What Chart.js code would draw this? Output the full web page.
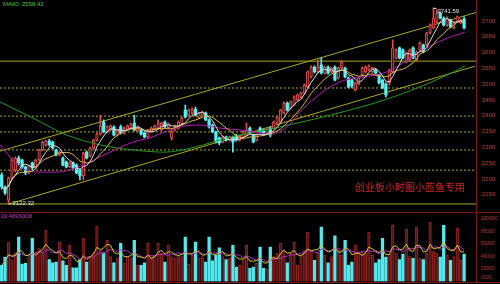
<!DOCTYPE html>
<html>
<head>
<meta charset="utf-8">
<script src="https://cdn.jsdelivr.net/npm/chart.js@4.4.1/dist/chart.umd.min.js"></script>
<style>
  html, body { margin:0; padding:0; background:#000; }
  #wrap { position:relative; width:500px; height:284px; overflow:hidden; background:#000; }
  #cPrice { position:absolute; left:0; top:0; }
  #cVol { position:absolute; left:0; top:212px; }
  .sep { position:absolute; left:0; width:500px; height:1px; background:#7a1818; }
  .txt { position:absolute; white-space:nowrap; font-family:'Liberation Sans', sans-serif; font-size:6px; line-height:7px; }
  #wm { position:absolute; left:355px; top:181px; white-space:nowrap; font-family:'Noto Sans CJK SC', sans-serif;
        font-size:10px; line-height:12px; color:#d02424; }
</style>
</head>
<body>
<div id="wrap">
  <canvas id="cPrice" width="500" height="213"></canvas>
  <canvas id="cVol" width="500" height="72"></canvas>
  <div class="sep" style="top:212px"></div>
  <div class="sep" style="top:282px"></div>
  <div class="txt" style="left:3px; top:1px; color:#2fd02f">MA60: 2558.42</div>
  <div class="txt" style="right:468px; top:213px; color:#d030d0">MAVOL10 4096008</div>
  <div id="wm">创业板小时图小蓝鱼专用</div>
</div>
<script>
/* ================= DATA ================= */

const priceTicks = [2150, 2200, 2250, 2300, 2350, 2400, 2450, 2500, 2550, 2600, 2650, 2700];
const volTickValues = [6000, 20000, 40000, 60000, 80000, 100000];
const volTickLabels = ["x100", "20000", "40000", "60000", "80000", "100000"];

const openP = [
  2213, 2175, 2133, 2203, 2228, 2266, 2260, 2238, 2222, 2251,
  2235, 2260, 2292, 2308, 2320, 2317, 2292, 2276, 2266, 2254,
  2238, 2251, 2244, 2228, 2210, 2285, 2273, 2298, 2323, 2342,
  2380, 2349, 2355, 2365, 2339, 2365, 2346, 2358, 2361, 2377,
  2352, 2355, 2346, 2333, 2349, 2358, 2361, 2355, 2380, 2361,
  2330, 2355, 2361, 2374, 2418, 2402, 2409, 2421, 2393, 2402,
  2409, 2387, 2371, 2349, 2330, 2317, 2333, 2323, 2333, 2339,
  2323, 2330, 2339, 2361, 2339, 2323, 2361, 2355, 2346, 2361,
  2361, 2377, 2380, 2409, 2440, 2425, 2434, 2450, 2459, 2472,
  2491, 2523, 2554, 2539, 2561, 2535, 2554, 2539, 2554, 2520,
  2551, 2551, 2520, 2513, 2482, 2501, 2529, 2539, 2545, 2539,
  2545, 2529, 2513, 2501, 2504, 2539, 2583, 2615, 2608, 2570,
  2577, 2615, 2577, 2608, 2624, 2624, 2662, 2678, 2697, 2725,
  2709, 2687, 2703, 2678, 2697, 2694, 2706
];
const closeP = [
  2175, 2156, 2203, 2260, 2266, 2251, 2238, 2219, 2241, 2235,
  2260, 2292, 2317, 2320, 2308, 2298, 2276, 2285, 2244, 2238,
  2251, 2235, 2219, 2210, 2282, 2266, 2298, 2323, 2342, 2368,
  2349, 2365, 2368, 2339, 2355, 2346, 2361, 2368, 2374, 2355,
  2365, 2342, 2333, 2352, 2361, 2368, 2374, 2377, 2365, 2374,
  2352, 2368, 2380, 2393, 2396, 2418, 2418, 2402, 2409, 2412,
  2387, 2365, 2349, 2317, 2314, 2333, 2323, 2333, 2317, 2323,
  2336, 2349, 2355, 2346, 2317, 2339, 2349, 2342, 2358, 2339,
  2380, 2396, 2418, 2440, 2418, 2444, 2459, 2466, 2472, 2497,
  2539, 2554, 2539, 2554, 2535, 2554, 2535, 2551, 2513, 2551,
  2570, 2523, 2491, 2494, 2504, 2520, 2551, 2554, 2558, 2551,
  2535, 2504, 2488, 2466, 2545, 2615, 2608, 2583, 2583, 2599,
  2608, 2583, 2602, 2630, 2602, 2662, 2687, 2709, 2725, 2709,
  2687, 2709, 2681, 2694, 2713, 2703, 2678
];
const highP = [
  2220, 2178, 2206, 2266, 2270, 2273, 2263, 2241, 2244, 2254,
  2263, 2295, 2320, 2323, 2326, 2320, 2295, 2289, 2270, 2257,
  2254, 2254, 2248, 2232, 2285, 2289, 2301, 2326, 2346, 2402,
  2387, 2368, 2371, 2368, 2358, 2371, 2365, 2371, 2377, 2402,
  2368, 2358, 2349, 2355, 2365, 2371, 2387, 2380, 2384, 2377,
  2355, 2371, 2384, 2396, 2434, 2421, 2425, 2428, 2412, 2415,
  2412, 2390, 2374, 2352, 2333, 2336, 2336, 2336, 2336, 2342,
  2339, 2352, 2377, 2365, 2342, 2342, 2365, 2358, 2361, 2365,
  2384, 2399, 2421, 2444, 2444, 2447, 2463, 2469, 2475, 2501,
  2542, 2558, 2558, 2577, 2583, 2558, 2558, 2554, 2558, 2554,
  2574, 2554, 2523, 2516, 2507, 2523, 2554, 2558, 2561, 2554,
  2548, 2532, 2516, 2504, 2548, 2640, 2612, 2618, 2612, 2602,
  2612, 2618, 2605, 2634, 2627, 2665, 2691, 2741.59, 2735, 2729,
  2713, 2713, 2706, 2697, 2716, 2706, 2713
];
const lowP = [
  2168, 2150, 2122.32, 2197, 2222, 2244, 2232, 2213, 2216, 2228,
  2232, 2257, 2289, 2304, 2304, 2295, 2273, 2273, 2241, 2235,
  2235, 2232, 2216, 2197, 2197, 2263, 2270, 2295, 2320, 2339,
  2346, 2346, 2352, 2336, 2336, 2342, 2342, 2355, 2358, 2352,
  2349, 2339, 2330, 2330, 2346, 2355, 2358, 2352, 2361, 2358,
  2323, 2352, 2358, 2371, 2393, 2399, 2405, 2399, 2390, 2399,
  2384, 2361, 2346, 2314, 2308, 2314, 2320, 2320, 2285, 2320,
  2320, 2326, 2336, 2342, 2314, 2320, 2346, 2339, 2342, 2333,
  2358, 2374, 2377, 2405, 2415, 2421, 2431, 2447, 2456, 2469,
  2488, 2520, 2535, 2535, 2532, 2532, 2532, 2535, 2510, 2516,
  2548, 2520, 2488, 2488, 2478, 2497, 2526, 2535, 2542, 2535,
  2532, 2501, 2485, 2459, 2497, 2535, 2580, 2580, 2580, 2567,
  2574, 2580, 2574, 2605, 2599, 2621, 2659, 2675, 2694, 2706,
  2684, 2684, 2678, 2675, 2694, 2691, 2675
];
const volume = [
  26000, 39000, 63000, 34000, 45000, 71000, 28000, 29000, 40000, 69000,
  45000, 54000, 48000, 82000, 35000, 30000, 31000, 63000, 33000, 26000,
  58000, 22000, 22000, 35000, 69000, 31000, 40000, 45000, 89000, 50000,
  46000, 66000, 40000, 30000, 38000, 61000, 30000, 40000, 38000, 66000,
  26000, 26000, 30000, 61000, 40000, 42000, 61000, 45000, 31000, 58000,
  40000, 38000, 42000, 40000, 71000, 28000, 42000, 63000, 38000, 40000,
  31000, 71000, 33000, 42000, 54000, 40000, 35000, 38000, 58000, 23000,
  26000, 35000, 58000, 21000, 23000, 29000, 55000, 21000, 20000, 55000,
  40000, 45000, 61000, 50000, 30000, 45000, 63000, 26000, 42000, 50000,
  79000, 48000, 34000, 45000, 87000, 42000, 30000, 40000, 73000, 50000,
  42000, 66000, 26000, 31000, 58000, 47000, 47000, 45000, 79000, 42000,
  30000, 35000, 69000, 39000, 44000, 90000, 46000, 35000, 44000, 84000,
  40000, 37000, 87000, 37000, 35000, 45000, 95000, 48000, 45000, 39000,
  90000, 42000, 34000, 40000, 86000, 34000, 44000
];

// MA30 / MA60 as [candle index, price]
const ma30Pts = [
  [-0.5, 2308], [5.4, 2238], [11.3, 2222], [16.3, 2222], [23.9, 2244], [28.9, 2270],
  [31.9, 2285], [38.6, 2317], [43.6, 2330], [48, 2349], [52.4, 2365], [58.4, 2371],
  [64.2, 2361], [70.1, 2355], [76, 2346], [78.9, 2342], [83.9, 2365], [87.7, 2412],
  [92.1, 2456], [96.6, 2491], [101, 2513], [108.3, 2526], [113.3, 2539], [118, 2567],
  [123.9, 2608], [129.8, 2640], [136.3, 2665]
];
const ma60Pts = [
  [-0.5, 2444], [9.2, 2393], [19.2, 2339], [28.9, 2308], [38.6, 2292], [48, 2285],
  [56.9, 2301], [66.3, 2330], [78.9, 2358], [96.6, 2402], [114.2, 2456], [129.8, 2523],
  [136.3, 2558]
];

const upperChannel = [[-0.5, 2288], [139.5, 2727]];
const lowerChannel = [[2.4, 2122], [139.2, 2557]];
const solidLevels = [2573, 2121];
const dottedLevels = [2488, 2399, 2349, 2292, 2228];

/* ================= HELPERS ================= */

const X_MIN = -0.5, X_MAX = 139.5;
const idx = openP.map((_, i) => i);
const isUp = i => closeP[i] >= openP[i];

function movingAvg(arr, n) {
  return arr.map((_, i) => {
    const from = Math.max(0, i - n + 1);
    const part = arr.slice(from, i + 1);
    return part.reduce((a, b) => a + b, 0) / part.length;
  });
}

const toXY = pts => pts.map(p => ({ x: p[0], y: p[1] }));
const levelLine = v => [{ x: X_MIN, y: v }, { x: X_MAX, y: v }];

function lineDs(data, color, order, extra) {
  return Object.assign({
    type: "line", data, borderColor: color, borderWidth: 1,
    pointRadius: 0, fill: false, tension: 0, order
  }, extra || {});
}

// right axis: fixed width, no extra padding so the plot fills the canvas
function fixAxis(s) {
  s.width = 24;
  s.paddingTop = 0;
  s.paddingBottom = 0;
}

const YELLOW_LINE = "#a8a824";

/* ================= PRICE ================= */

const extremaLabels = {
  id: "extremaLabels",
  afterDatasetsDraw(chart) {
    const { ctx } = chart;
    const x = chart.scales.x, y = chart.scales.y;
    const hi = highP.indexOf(Math.max(...highP));
    const lo = lowP.indexOf(Math.min(...lowP));
    ctx.save();
    ctx.font = '6px "Liberation Sans"';
    ctx.fillStyle = "#e2e2e2";
    ctx.strokeStyle = "#e2e2e2";
    ctx.lineWidth = 1;
    ctx.textBaseline = "middle";
    [[hi, highP[hi], 3], [lo, lowP[lo], 0]].forEach(([i, v, dy]) => {
      const px = x.getPixelForValue(i);
      const py = y.getPixelForValue(v);
      ctx.beginPath();
      ctx.moveTo(px, py + 0.5);
      ctx.lineTo(px + 3, py + 0.5);
      ctx.stroke();
      ctx.fillText(v.toFixed(2), px + 4, py + dy);
    });
    ctx.restore();
  }
};

const priceDatasets = [];

dottedLevels.forEach(v => priceDatasets.push(
  lineDs(levelLine(v), YELLOW_LINE, 20, { borderDash: [2, 2] })));
solidLevels.forEach(v => priceDatasets.push(lineDs(levelLine(v), YELLOW_LINE, 19)));
priceDatasets.push(lineDs(toXY(upperChannel), YELLOW_LINE, 18));
priceDatasets.push(lineDs(toXY(lowerChannel), YELLOW_LINE, 18));

priceDatasets.push({
  type: "bar",
  data: idx.map(i => ({ x: i, y: [lowP[i], highP[i]] })),
  backgroundColor: c => isUp(c.dataIndex) ? "#e05252" : "#58f0f0",
  barThickness: 1,
  grouped: false,
  order: 9
});
priceDatasets.push({
  type: "bar",
  data: idx.map(i => ({ x: i, y: [openP[i], closeP[i]] })),
  backgroundColor: c => isUp(c.dataIndex) ? "#4a0c0c" : "#58f0f0",
  borderColor: c => isUp(c.dataIndex) ? "#e05252" : "#58f0f0",
  borderWidth: c => isUp(c.dataIndex) ? 1 : 0,
  borderSkipped: false,
  barThickness: 2.6,
  grouped: false,
  order: 8
});

const ma5 = movingAvg(closeP, 5);
const ma10 = movingAvg(closeP, 10);

priceDatasets.push(lineDs(toXY(ma60Pts), "#1f9a1f", 4, { tension: 0.4, cubicInterpolationMode: "monotone" }));
priceDatasets.push(lineDs(toXY(ma30Pts), "#b41cb4", 3, { tension: 0.4, cubicInterpolationMode: "monotone" }));
priceDatasets.push(lineDs(idx.map(i => ({ x: i, y: ma10[i] })), "#d6b83a", 2));
priceDatasets.push(lineDs(idx.map(i => ({ x: i, y: ma5[i] })), "#dcdcdc", 1));

new Chart(document.getElementById("cPrice"), {
  type: "bar",
  data: { datasets: priceDatasets },
  options: {
    responsive: false,
    animation: false,
    devicePixelRatio: 1,
    layout: { padding: { top: 0, right: 0, bottom: 1, left: 0 } },
    plugins: { legend: { display: false }, tooltip: { enabled: false } },
    scales: {
      x: { type: "linear", min: X_MIN, max: X_MAX, offset: false, display: false },
      y: {
        position: "right",
        min: 2095.5,
        max: 2766.5,
        afterBuildTicks: s => { s.ticks = priceTicks.map(v => ({ value: v })); },
        afterFit: fixAxis,
        grid: { display: false, drawTicks: false },
        border: { display: true, color: "#7a1818" },
        ticks: {
          color: "#c23a3a",
          padding: 6,
          font: { size: 6, family: "Liberation Sans" },
          callback: v => String(v)
        }
      }
    }
  },
  plugins: [extremaLabels]
});

/* ================= VOLUME ================= */

const volMa5 = movingAvg(volume, 5);
const volMa10 = movingAvg(volume, 10);

new Chart(document.getElementById("cVol"), {
  type: "bar",
  data: {
    datasets: [
      {
        type: "bar",
        data: idx.map(i => ({ x: i, y: volume[i] })),
        backgroundColor: c => isUp(c.dataIndex) ? "#5a1010" : "#52eaee",
        borderColor: c => isUp(c.dataIndex) ? "#8e2626" : "#52eaee",
        borderWidth: c => isUp(c.dataIndex) ? 1 : 0,
        borderSkipped: false,
        barThickness: 2.6,
        grouped: false,
        order: 5
      },
      lineDs(idx.map(i => ({ x: i, y: volMa10[i] })), "#b42cc0", 2),
      lineDs(idx.map(i => ({ x: i, y: volMa5[i] })), "#cfc428", 1)
    ]
  },
  options: {
    responsive: false,
    animation: false,
    devicePixelRatio: 1,
    layout: { padding: { top: 0, right: 0, bottom: 2.5, left: 0 } },
    plugins: { legend: { display: false }, tooltip: { enabled: false } },
    scales: {
      x: { type: "linear", min: X_MIN, max: X_MAX, offset: false, display: false },
      y: {
        position: "right",
        min: 0,
        max: 111200,
        afterBuildTicks: s => { s.ticks = volTickValues.map(v => ({ value: v })); },
        afterFit: fixAxis,
        grid: { display: false, drawTicks: false },
        border: { display: true, color: "#7a1818" },
        ticks: {
          color: "#c23a3a",
          padding: 5,
          font: { size: 5, family: "Liberation Sans" },
          callback: v => volTickLabels[volTickValues.indexOf(v)]
        }
      }
    }
  }
});
</script>
</body>
</html>
